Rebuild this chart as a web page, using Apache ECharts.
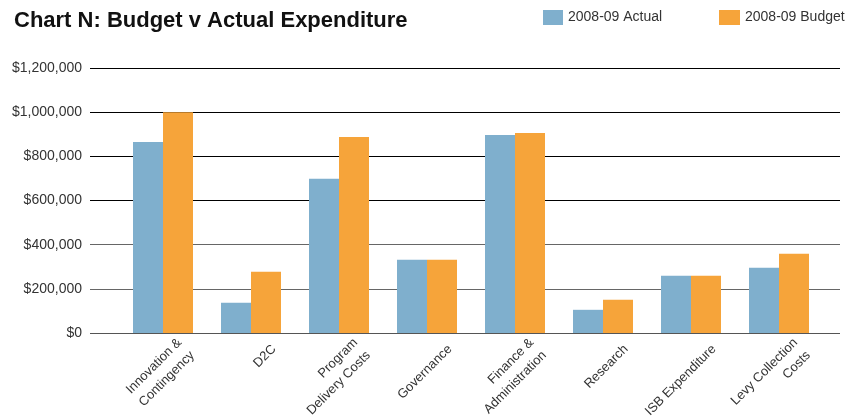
<!DOCTYPE html>
<html>
<head>
<meta charset="utf-8">
<script src="https://cdn.jsdelivr.net/npm/echarts@6/dist/echarts.min.js"></script>
<style>
  html, body { margin: 0; padding: 0; background: #fff; }
  #chart { width: 852px; height: 416px; }
</style>
</head>
<body>
<div id="chart"></div>
<script>
var categories = ['Innovation &\nContingency', 'D2C', 'Program\nDelivery Costs', 'Governance',
    'Finance &\nAdministration', 'Research', 'ISB Expenditure', 'Levy Collection\nCosts'];
var actual = [865000, 137000, 698000, 332000, 897000, 105000, 259000, 295000];
var budget = [1000000, 277000, 888000, 332000, 906000, 151000, 259000, 359000];
var seriesNames = ['2008-09 Actual', '2008-09 Budget'];
var yTicks = [0, 200000, 400000, 600000, 800000, 1000000, 1200000];

var font = 'Liberation Sans, Arial, sans-serif';

function money(v) {
    return '$' + String(v).replace(/\B(?=(\d{3})+(?!\d))/g, ',');
}

var chart = echarts.init(document.getElementById('chart'));

var option = {
    animation: false,
    textStyle: { fontFamily: font },
    title: {
        text: 'Chart N: Budget v Actual Expenditure',
        left: 9,
        top: 5,
        textStyle: { fontSize: 22, fontWeight: 'bold', color: '#111', fontFamily: font }
    },
    legend: [
        {
            data: [seriesNames[0]], left: 538, top: 5, icon: 'rect',
            itemWidth: 20, itemHeight: 15, itemGap: 0,
            textStyle: { fontSize: 14, color: '#333' }
        },
        {
            data: [seriesNames[1]], left: 714, top: 5, icon: 'rect',
            itemWidth: 21, itemHeight: 15, itemGap: 0,
            textStyle: { fontSize: 14, color: '#333' }
        }
    ],
    grid: [
        // gridlines and y labels
        { left: 90, right: 12, top: 68, bottom: 83, outerBoundsMode: 'none', containLabel: false },
        // bars
        { left: 119, right: 29, top: 68, bottom: 83, outerBoundsMode: 'none', containLabel: false },
        // category labels (shifted right like the original)
        { left: 142, right: 6, top: 68, bottom: 83, outerBoundsMode: 'none', containLabel: false }
    ],
    xAxis: [
        { gridIndex: 0, type: 'category', data: categories, show: false },
        { gridIndex: 1, type: 'category', data: categories,
          axisLine: { show: false }, axisTick: { show: false }, axisLabel: { show: false } },
        { gridIndex: 2, type: 'category', data: categories,
          axisLine: { show: false }, axisTick: { show: false },
          axisLabel: { rotate: 45, fontSize: 13, color: '#333', margin: 14, lineHeight: 18, interval: 0 } }
    ],
    yAxis: [
        {
            gridIndex: 0, type: 'value', min: 0, max: 1200000, interval: 200000,
            axisLine: { show: false }, axisTick: { show: false },
            axisLabel: { formatter: money, fontSize: 14, color: '#333', margin: 8 },
            splitLine: { lineStyle: { color: ['#555', '#666', '#666', '#000', '#000', '#000', '#000'], width: 1.2 } }
        },
        { gridIndex: 1, type: 'value', min: 0, max: 1200000, show: false },
        { gridIndex: 2, type: 'value', min: 0, max: 1200000, show: false }
    ],
    series: [
        {
            name: seriesNames[0], type: 'bar', xAxisIndex: 1, yAxisIndex: 1,
            data: actual, barWidth: 30, barGap: '0%',
            itemStyle: { color: '#7FAFCD' }
        },
        {
            name: seriesNames[1], type: 'bar', xAxisIndex: 1, yAxisIndex: 1,
            data: budget, barWidth: 30, barGap: '0%',
            itemStyle: { color: '#F6A43A' }
        }
    ]
};

chart.setOption(option);
</script>
</body>
</html>
